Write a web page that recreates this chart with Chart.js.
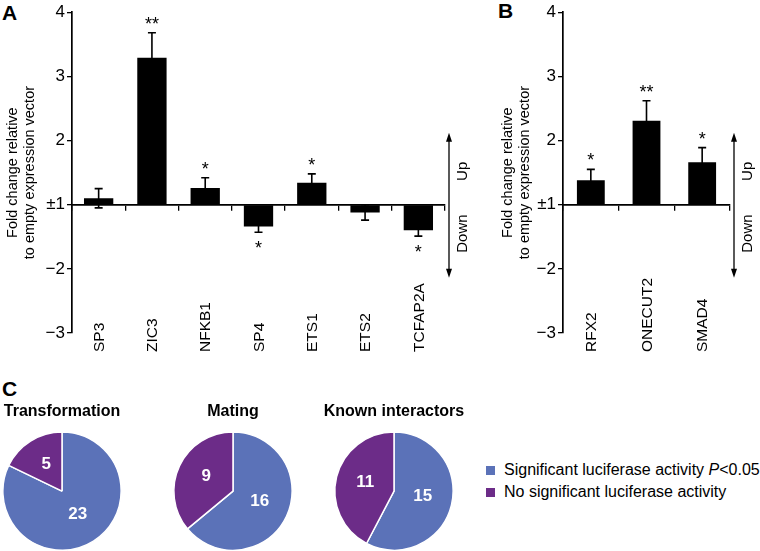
<!DOCTYPE html>
<html>
<head>
<meta charset="utf-8">
<script src="https://cdn.jsdelivr.net/npm/chart.js@4.4.0/dist/chart.umd.min.js"></script>
<style>
  body { margin: 0; background: #fff; }
  #wrap { position: relative; width: 760px; height: 551px; overflow: hidden; font-family: "Liberation Sans", Arial, sans-serif; color: #000; }
  canvas { position: absolute; }
  .panel { position: absolute; font-weight: bold; font-size: 21px; line-height: 20px; }
  #legend { position: absolute; left: 486px; top: 459px; font-size: 16px; }
  #legend div { height: 22px; line-height: 22px; white-space: nowrap; }
  #legend span.sq { display: inline-block; width: 9px; height: 9px; margin-right: 9px; vertical-align: 0px; }
</style>
</head>
<body>
<div id="wrap">
  <div class="panel" style="left:2px;top:3px">A</div>
  <div class="panel" style="left:498px;top:1px">B</div>
  <div class="panel" style="left:2px;top:379px">C</div>
  <canvas id="chartA" width="470" height="365" style="left:0;top:0"></canvas>
  <canvas id="chartB" width="265" height="365" style="left:495px;top:0"></canvas>
  <canvas id="pie0" width="124" height="153" style="left:0;top:398px"></canvas>
  <canvas id="pie1" width="124" height="153" style="left:171px;top:398px"></canvas>
  <canvas id="pie2" width="142" height="153" style="left:323px;top:398px"></canvas>
  <div id="legend"></div>
</div>
<script>
// panel A
const genesA = ['SP3', 'ZIC3', 'NFKB1', 'SP4', 'ETS1', 'ETS2', 'TCFAP2A'];
const foldA = [1.10, 3.29, 1.26, -1.34, 1.34, -1.12, -1.40];
const errA = [0.15, 0.39, 0.16, 0.09, 0.14, 0.12, 0.09];
const starsA = ['', '**', '*', '*', '*', '', '*'];

// panel B
const genesB = ['RFX2', 'ONECUT2', 'SMAD4'];
const foldB = [1.38, 2.31, 1.66];
const errB = [0.17, 0.31, 0.23];
const starsB = ['*', '**', '*'];

const yTickLabels = ['−3', '−2', '±1', '2', '3', '4'];
const yTitle = ['Fold change relative', 'to empty expression vector'];

// panel C
const pieTitles = ['Transformation', 'Mating', 'Known interactors'];
const sigCounts = [23, 16, 15];
const nonSigCounts = [5, 9, 11];
const legendLabels = ['Significant luciferase activity P<0.05', 'No significant luciferase activity'];
const pieColors = ['#5b72b8', '#6c2c88'];

const FONT = '"Liberation Sans", Arial, sans-serif';

// fold change (±1 = no change) -> linear axis unit
const toAxis = f => f > 0 ? f - 1 : f + 1;

function decorPlugin(genes, values, err, stars) {
  return {
    id: 'decor',
    afterDatasetsDraw(chart) {
      const ctx = chart.ctx;
      const xs = chart.scales.x, ys = chart.scales.y;
      const area = chart.chartArea;
      ctx.save();
      ctx.strokeStyle = '#000';
      ctx.fillStyle = '#000';
      ctx.lineWidth = 1.6;
      // error bars + stars
      values.forEach((v, i) => {
        const x = xs.getPixelForValue(i);
        const hi = ys.getPixelForValue(v + err[i]);
        const lo = ys.getPixelForValue(v - err[i]);
        ctx.beginPath();
        ctx.moveTo(x, hi); ctx.lineTo(x, lo);
        ctx.moveTo(x - 4, hi); ctx.lineTo(x + 4, hi);
        ctx.moveTo(x - 4, lo); ctx.lineTo(x + 4, lo);
        ctx.stroke();
        if (stars[i]) {
          ctx.font = '18px ' + FONT;
          ctx.textAlign = 'center';
          ctx.textBaseline = 'alphabetic';
          ctx.fillText(stars[i], x, v > 0 ? hi - 3 : lo + 22);
        }
      });
      // category labels, rotated, bottom aligned
      ctx.font = '15.5px ' + FONT;
      ctx.textAlign = 'left';
      ctx.textBaseline = 'middle';
      genes.forEach((g, i) => {
        ctx.save();
        ctx.translate(xs.getPixelForValue(i) + 1, 352);
        ctx.rotate(-Math.PI / 2);
        ctx.fillText(g, 0, 0);
        ctx.restore();
      });
      // up / down arrow
      const ax = area.right + 4;
      const yTop = ys.getPixelForValue(1.12), yBot = ys.getPixelForValue(-1.14);
      ctx.lineWidth = 1.3;
      ctx.beginPath();
      ctx.moveTo(ax, yTop + 6); ctx.lineTo(ax, yBot - 6);
      ctx.stroke();
      ctx.beginPath();
      ctx.moveTo(ax, yTop); ctx.lineTo(ax - 3, yTop + 9); ctx.lineTo(ax + 3, yTop + 9); ctx.closePath();
      ctx.moveTo(ax, yBot); ctx.lineTo(ax - 3, yBot - 9); ctx.lineTo(ax + 3, yBot - 9); ctx.closePath();
      ctx.fill();
      ctx.font = '15px ' + FONT;
      ctx.textAlign = 'center';
      [['Up', 0.52], ['Down', -0.45]].forEach(([t, v]) => {
        ctx.save();
        ctx.translate(ax + 14, ys.getPixelForValue(v));
        ctx.rotate(-Math.PI / 2);
        ctx.fillText(t, 0, 0);
        ctx.restore();
      });
      ctx.restore();
    }
  };
}

function barChart(id, genes, fold, err, stars, yWidth, padRight, barPct) {
  const values = fold.map(toAxis);
  return new Chart(document.getElementById(id), {
    type: 'bar',
    data: {
      labels: genes,
      datasets: [{ data: values, backgroundColor: '#000', borderWidth: 0, barPercentage: barPct, categoryPercentage: 1 }]
    },
    options: {
      responsive: false, animation: false, devicePixelRatio: 1,
      layout: { padding: { top: 8, right: padRight, bottom: 32, left: 0 } },
      plugins: { legend: { display: false }, tooltip: { enabled: false } },
      scales: {
        x: {
          position: { y: 0 }, offset: true,
          ticks: { display: false },
          grid: { offset: true, drawOnChartArea: false, tickLength: 5, color: '#000', lineWidth: 1.3 },
          border: { color: '#000', width: 1.7 }
        },
        y: {
          min: -2, max: 3,
          afterFit: s => { s.width = yWidth; },
          ticks: { stepSize: 1, callback: v => yTickLabels[v + 2], color: '#000', font: { size: 17, family: FONT }, padding: 2 },
          grid: { drawOnChartArea: false, tickLength: 5, color: '#000', lineWidth: 1.3 },
          border: { color: '#000', width: 1.7 },
          title: { display: true, text: yTitle, color: '#000', font: { size: 14.5, family: FONT }, padding: { top: 4, bottom: 0 } }
        }
      }
    },
    plugins: [decorPlugin(genes, values, err, stars)]
  });
}

barChart('chartA', genesA, foldA, errA, starsA, 72, 25, 0.55);
barChart('chartB', genesB, foldB, errB, starsB, 68, 30, 0.5);

const sliceLabels = {
  id: 'sliceLabels',
  afterDatasetsDraw(chart) {
    const ctx = chart.ctx;
    const ds = chart.data.datasets[0];
    ctx.save();
    ctx.fillStyle = '#fff';
    ctx.font = 'bold 17px ' + FONT;
    ctx.textAlign = 'center';
    ctx.textBaseline = 'middle';
    chart.getDatasetMeta(0).data.forEach((arc, i) => {
      const p = arc.tooltipPosition();
      ctx.fillText(ds.data[i], p.x, p.y - 2);
    });
    ctx.restore();
  }
};

pieTitles.forEach((t, i) => {
  new Chart(document.getElementById('pie' + i), {
    type: 'pie',
    data: {
      labels: legendLabels,
      datasets: [{ data: [sigCounts[i], nonSigCounts[i]], backgroundColor: pieColors, borderColor: '#fff', borderWidth: 1.5 }]
    },
    options: {
      responsive: false, animation: false, devicePixelRatio: 1,
      layout: { padding: 0 },
      plugins: {
        legend: { display: false }, tooltip: { enabled: false },
        title: { display: true, text: t, color: '#000', font: { size: 16, weight: 'bold', family: FONT }, padding: { top: 4, bottom: 10 } }
      }
    },
    plugins: [sliceLabels]
  });
});

// legend
const legend = document.getElementById('legend');
legendLabels.forEach((l, i) => {
  const row = document.createElement('div');
  const html = l.replace('<', '&lt;').replace(/P(?=&lt;)/, '<i>P</i>');
  row.innerHTML = '<span class="sq" style="background:' + pieColors[i] + '"></span>' + html;
  legend.appendChild(row);
});
</script>
</body>
</html>
